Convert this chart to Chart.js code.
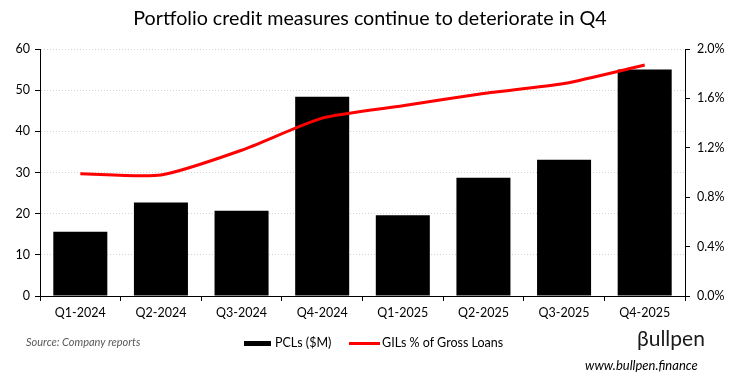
<!DOCTYPE html>
<html>
<head>
<meta charset="utf-8">
<script src="https://cdn.jsdelivr.net/npm/chart.js@4.4.1/dist/chart.umd.min.js"></script>
<style>
  html, body { margin: 0; padding: 0; background: #fff; }
  #wrap { position: relative; width: 743px; height: 383px; overflow: hidden; }
  canvas { position: absolute; left: 0; top: 0; }
  .t { position: absolute; white-space: nowrap; font-family: Lato, "Open Sans", sans-serif; }
</style>
</head>
<body>
<div id="wrap">
  <canvas id="c" width="743" height="383"></canvas>
  <div class="t" id="title" style="left:0;width:740px;text-align:center;top:6px;font-size:19.7px;line-height:24px;color:#000;">Portfolio credit measures continue to deteriorate in Q4</div>
  <div class="t" style="left:26px;top:335px;font-size:11px;line-height:14px;font-style:italic;color:#595959;">Source: Company reports</div>
  <div style="position:absolute;left:244px;top:341px;width:27px;height:5px;background:#000;"></div>
  <div class="t" style="left:275px;top:335px;font-size:12.5px;line-height:16px;color:#000;">PCLs ($M)</div>
  <div style="position:absolute;left:349px;top:342px;width:31px;height:3px;background:#ff0000;"></div>
  <div class="t" style="left:382px;top:335px;font-size:12.5px;line-height:16px;color:#000;">GILs % of Gross Loans</div>
  <div class="t" style="left:637px;top:326px;font-size:21px;line-height:24px;color:#1a1a1a;">βullpen</div>
  <div class="t" style="left:585px;top:357px;font-size:13px;line-height:16px;font-style:italic;color:#000;">www.bullpen.finance</div>
</div>
<script>
const categories = ["Q1-2024","Q2-2024","Q3-2024","Q4-2024","Q1-2025","Q2-2025","Q3-2025","Q4-2025"];
const pcls = [15.6, 22.7, 20.7, 48.4, 19.6, 28.7, 33.1, 55.0];
const gilsPct = [0.99, 0.98, 1.18, 1.44, 1.54, 1.64, 1.72, 1.87];
const leftTicks = [0, 10, 20, 30, 40, 50, 60];
const rightTicks = [0, 0.4, 0.8, 1.2, 1.6, 2.0];

const tickFont = { family: 'Lato, "Open Sans", sans-serif', size: 12.5 };

new Chart(document.getElementById('c'), {
  data: {
    labels: categories,
    datasets: [
      {
        type: 'line', label: 'GILs % of Gross Loans', data: gilsPct, yAxisID: 'y1',
        borderColor: '#ff0000', backgroundColor: '#ff0000', borderWidth: 3,
        pointRadius: 0, tension: 0.2, order: 0
      },
      {
        type: 'bar', label: 'PCLs ($M)', data: pcls, yAxisID: 'y',
        backgroundColor: '#000', borderWidth: 0,
        categoryPercentage: 1, barPercentage: 0.67, order: 1
      }
    ]
  },
  options: {
    responsive: false, animation: false, devicePixelRatio: 1,
    layout: { padding: { top: 49, bottom: 57, left: 0, right: 0 } },
    plugins: { legend: { display: false }, title: { display: false }, tooltip: { enabled: false } },
    scales: {
      x: {
        offset: true,
        grid: { display: true, offset: true, drawOnChartArea: false, drawTicks: true, tickLength: 5, tickColor: '#000', tickWidth: 1 },
        border: { display: true, color: '#000', width: 1 },
        ticks: { color: '#000', font: tickFont, padding: 4, maxRotation: 0, autoSkip: false },
        afterFit: s => { s.height = 30; }
      },
      y: {
        position: 'left', min: 0, max: 60,
        afterBuildTicks: s => { s.ticks = leftTicks.map(v => ({ value: v })); },
        grid: { color: '#d3d3d3', lineWidth: 1, drawTicks: true, tickLength: 5, tickColor: '#000' },
        border: { display: true, color: '#000', width: 1, dash: [1, 2] },
        ticks: { color: '#000', font: tickFont, padding: 5 },
        afterFit: s => { s.width = 40; }
      },
      y1: {
        position: 'right', min: 0, max: 2,
        afterBuildTicks: s => { s.ticks = rightTicks.map(v => ({ value: v })); },
        grid: { drawOnChartArea: false, drawTicks: true, tickLength: 5, tickColor: '#000' },
        border: { display: true, color: '#000', width: 1 },
        ticks: { color: '#000', font: tickFont, padding: 7, callback: v => v.toFixed(1) + '%' },
        afterFit: s => { s.width = 58; }
      }
    }
  }
});
</script>
</body>
</html>
